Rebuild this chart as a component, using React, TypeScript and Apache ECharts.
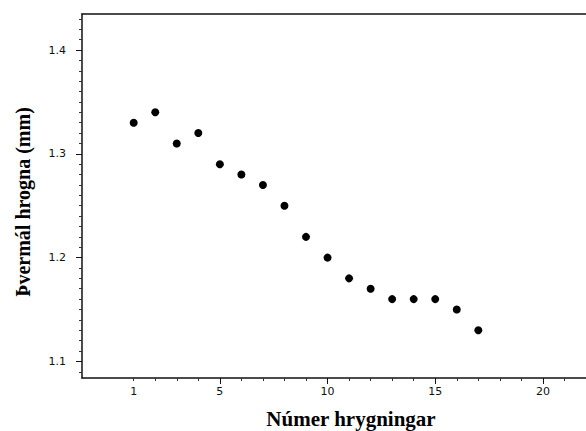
import React, { useEffect, useRef } from "react";
import * as echarts from "echarts";

const xValues = [1, 2, 3, 4, 5, 6, 7, 8, 9, 10, 11, 12, 13, 14, 15, 16, 17];
const yValues = [1.33, 1.34, 1.31, 1.32, 1.29, 1.28, 1.27, 1.25, 1.22, 1.2, 1.18, 1.17, 1.16, 1.16, 1.16, 1.15, 1.13];
const xLabelValues = [1, 5, 10, 15, 20];
const xMajorTicks = [5, 10, 15, 20];
const xMinorTicks = [1, 2, 3, 4, 6, 7, 8, 9, 11, 12, 13, 14, 16, 17, 18, 19, 21];
const yLabelValues = [1.1, 1.2, 1.3, 1.4];
const yMinorTicks = [
  1.09, 1.11, 1.12, 1.13, 1.14, 1.15, 1.16, 1.17, 1.18, 1.19,
  1.21, 1.22, 1.23, 1.24, 1.25, 1.26, 1.27, 1.28, 1.29,
  1.31, 1.32, 1.33, 1.34, 1.35, 1.36, 1.37, 1.38, 1.39,
  1.41, 1.42, 1.43,
];
const xTitle = "Númer hrygningar";
const yTitle = "Þvermál hrogna (mm)";

const X_MIN = -1.4;
const X_MAX = 22;
const Y_MIN = 1.084;
const Y_MAX = 1.4347;

export default function App() {
  const ref = useRef<HTMLDivElement>(null);
  useEffect(() => {
    if (!ref.current) return;
    const chart = echarts.init(ref.current, null, { renderer: "svg" });
    const axisLine = { show: true, onZero: false, lineStyle: { color: "#111", width: 1.5 } };
    const noLine = { show: false, onZero: false };
    const labelFont = { fontFamily: "DejaVu Sans", fontSize: 11, color: "#111" };
    chart.setOption({
      animation: false,
      backgroundColor: "#ffffff",
      grid: { left: 82, top: 14, right: 0, bottom: 53, containLabel: false },
      xAxis: [
        {
          type: "value",
          position: "bottom",
          min: X_MIN,
          max: X_MAX,
          axisLine,
          splitLine: { show: false },
          axisTick: { show: true, customValues: xMajorTicks, length: 6, lineStyle: { color: "#111", width: 1 } },
          axisLabel: { show: true, customValues: xLabelValues, margin: 8, ...labelFont },
        },
        {
          type: "value",
          position: "bottom",
          min: X_MIN,
          max: X_MAX,
          axisLine: noLine,
          splitLine: { show: false },
          axisTick: { show: true, customValues: xMinorTicks, length: 3, lineStyle: { color: "#333", width: 1 } },
          axisLabel: { show: false },
        },
        {
          type: "value",
          position: "top",
          min: X_MIN,
          max: X_MAX,
          axisLine,
          splitLine: { show: false },
          axisTick: { show: false },
          axisLabel: { show: false },
        },
      ],
      yAxis: [
        {
          type: "value",
          position: "left",
          min: Y_MIN,
          max: Y_MAX,
          axisLine,
          splitLine: { show: false },
          axisTick: { show: true, customValues: yLabelValues, length: 6, lineStyle: { color: "#111", width: 1 } },
          axisLabel: {
            show: true,
            customValues: yLabelValues,
            margin: 16,
            formatter: (v: number) => v.toFixed(1),
            ...labelFont,
          },
        },
        {
          type: "value",
          position: "left",
          min: Y_MIN,
          max: Y_MAX,
          axisLine: noLine,
          splitLine: { show: false },
          axisTick: { show: true, customValues: yMinorTicks, length: 3, lineStyle: { color: "#333", width: 1 } },
          axisLabel: { show: false },
        },
      ],
      series: [
        {
          type: "scatter",
          xAxisIndex: 0,
          yAxisIndex: 0,
          symbol: "circle",
          symbolSize: 8,
          itemStyle: { color: "#000", opacity: 1 },
          data: xValues.map((x, i) => [x, yValues[i]]),
        },
      ],
      graphic: [
        {
          type: "text",
          x: 351,
          y: 419,
          style: {
            text: xTitle,
            fontFamily: "Liberation Serif",
            fontWeight: "bold",
            fontSize: 21,
            fill: "#000",
            align: "center",
            verticalAlign: "middle",
          },
        },
        {
          type: "text",
          x: 23,
          y: 202,
          rotation: Math.PI / 2,
          style: {
            text: yTitle,
            fontFamily: "Liberation Serif",
            fontWeight: "bold",
            fontSize: 20,
            fill: "#000",
            align: "center",
            verticalAlign: "middle",
          },
        },
      ],
    });
    return () => chart.dispose();
  }, []);
  return (
    <div
      ref={ref}
      style={{ position: "fixed", left: 0, top: 0, width: 586, height: 431, background: "#fff" }}
    />
  );
}
